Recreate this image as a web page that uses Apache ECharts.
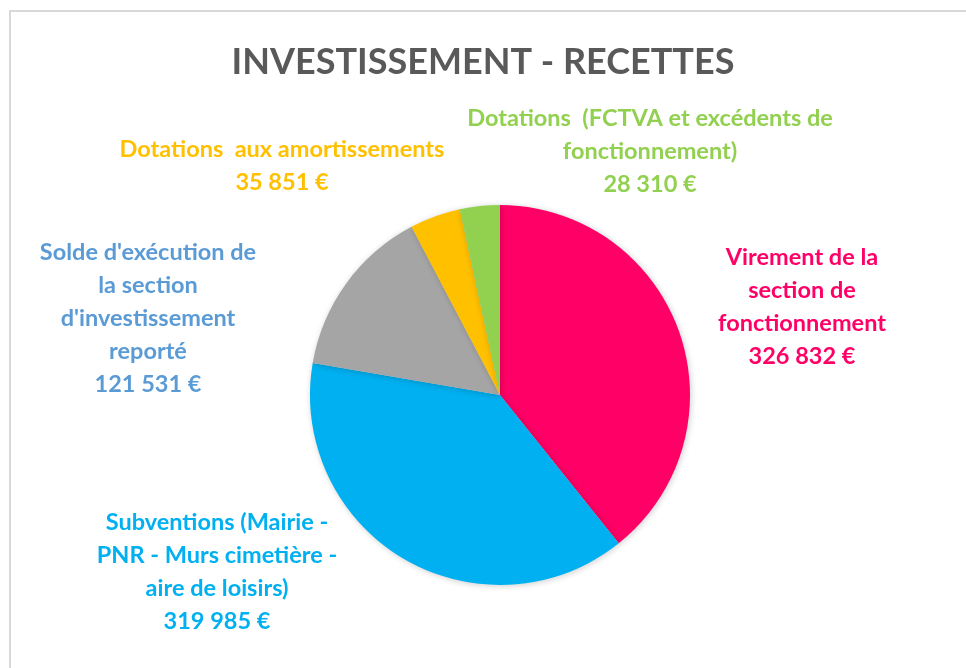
<!DOCTYPE html>
<html>
<head>
<meta charset="utf-8">
<script src="https://cdn.jsdelivr.net/npm/echarts@6/dist/echarts.min.js"></script>
<style>
html,body{margin:0;padding:0;background:#fff;}
#main{width:966px;height:668px;}
</style>
</head>
<body>
<div id="main"></div>
<script>
const titleText = 'INVESTISSEMENT - RECETTES';
const categories = [
  'Virement de la\nsection de\nfonctionnement',
  'Subventions (Mairie -\nPNR - Murs cimetière -\naire de loisirs)',
  "Solde d'exécution de\nla section\nd'investissement\nreporté",
  'Dotations  aux amortissements',
  'Dotations  (FCTVA et excédents de\nfonctionnement)'
];
const values = [326832, 319985, 121531, 35851, 28310];
const sliceColors = ['#FF0066', '#00B0F0', '#A5A5A5', '#FFC000', '#92D050'];
const labelColors = ['#FF0066', '#00B0F0', '#5B9BD5', '#FFC000', '#92D050'];

// label anchor positions (layout)
const labelPos = [[802, 307], [217, 572], [148, 318], [282, 166], [650, 151]];

function fmt(v){
  return String(v).replace(/\B(?=(\d{3})+(?!\d))/g, ' ') + ' €';
}

const chart = echarts.init(document.getElementById('main'));
chart.setOption({
  animation: false,
  backgroundColor: '#fff',
  graphic: [{
    type: 'rect',
    shape: {x: 10, y: 11, width: 1200, height: 1000},
    style: {fill: 'none', stroke: '#D9D9D9', lineWidth: 2},
    silent: true
  }],
  title: {
    text: titleText,
    left: 'center',
    top: 39,
    textStyle: {fontFamily: 'Lato', fontWeight: 'bold', fontSize: 36, color: '#595959'}
  },
  series: [{
    type: 'pie',
    center: [500, 395],
    radius: 190,
    startAngle: 90,
    clockwise: true,
    itemStyle: {shadowBlur: 6, shadowColor: 'rgba(0,0,0,0.2)', shadowOffsetX: 1, shadowOffsetY: 1},
    label: {
      show: true,
      position: 'outside',
      fontFamily: 'Lato',
      fontWeight: 'bold',
      fontSize: 23.5,
      lineHeight: 33,
      align: 'center',
      overflow: 'none',
      width: 600,
      formatter: p => p.name + '\n' + fmt(p.value)
    },
    labelLine: {show: false},
    labelLayout: p => ({
      x: labelPos[p.dataIndex][0],
      y: labelPos[p.dataIndex][1],
      align: 'center',
      verticalAlign: 'middle',
      hideOverlap: false
    }),
    data: values.map((v, i) => ({
      name: categories[i],
      value: v,
      itemStyle: {color: sliceColors[i]},
      label: {color: labelColors[i]}
    }))
  }]
});
</script>
</body>
</html>
